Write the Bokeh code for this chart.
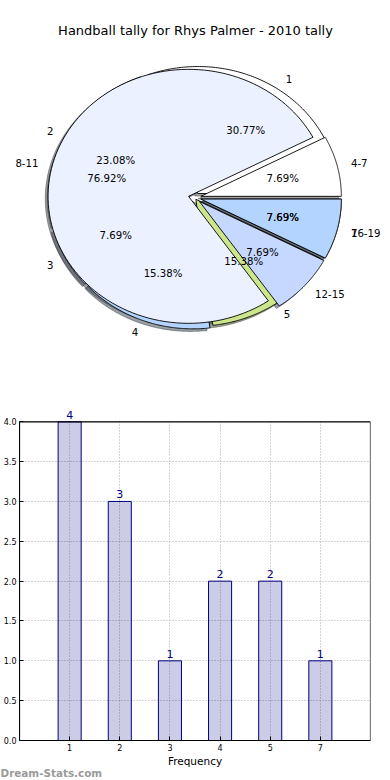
import numpy as np
from bokeh.plotting import figure
from bokeh.models import (ColumnDataSource, Label, LabelSet, Range1d, FixedTicker,
                          BoxAnnotation, Title)
from bokeh.core.properties import value
from bokeh.embed import file_html
from bokeh.resources import INLINE

# ---------------- data ----------------
title_text = "Handball tally for Rhys Palmer - 2010 tally"

freq_labels = ["1", "2", "3", "4", "5", "7"]
freq_counts = [4, 3, 1, 2, 2, 1]

range_labels = ["4-7", "8-11", "12-15", "16-19"]
range_counts = [1, 10, 1, 1]

bar_categories = ["1", "2", "3", "4", "5", "7"]
bar_values = [4, 3, 1, 2, 2, 1]

ytick_values = [0.0, 0.5, 1.0, 1.5, 2.0, 2.5, 3.0, 3.5, 4.0]
ytick_labels = ["0.0", "0.5", "1.0", "1.5", "2.0", "2.5", "3.0", "3.5", "4.0"]

x_label = "Frequency"
watermark = "Dream-Stats.com"

# ---------------- styles ----------------
FONTNAME = "DejaVu Sans"
FONT = value(FONTNAME)
freq_colors = ["#FFFFFF", "#EBF1FF", "#C6D8FF", "#B3D4FF", "#CCE68A", "#B3D4FF"]
range_colors = ["#FFFFFF", "#EBF1FF", "#C6D8FF", "#B3D4FF"]
freq_explode = [0.04, 0.035, 0.035, 0.035, 0.015, 0.045]
range_explode = [0.045, 0.045, 0.045, 0.045]


def pie_parts(counts, labels, explode, colors):
    counts = np.asarray(counts, dtype=float)
    fracs = counts / counts.sum()
    edges = np.concatenate([[0.0], np.cumsum(fracs)]) * 2 * np.pi
    w = dict(xs=[], ys=[], color=[], sxs=[], sys=[], scolor=[])
    t = dict(x=[], y=[], text=[], align=[])
    p = dict(x=[], y=[], text=[])
    for i in range(len(counts)):
        t1, t2 = edges[i], edges[i + 1]
        mid = 0.5 * (t1 + t2)
        cx, cy = explode[i] * np.cos(mid), explode[i] * np.sin(mid)
        th = np.linspace(t1, t2, 120)
        xs = [cx] + list(cx + np.cos(th)) + [cx]
        ys = [cy] + list(cy + np.sin(th)) + [cy]
        w["xs"].append(xs)
        w["ys"].append(ys)
        w["color"].append(colors[i])
        h = colors[i].lstrip("#")
        rgb = [int(0.3 * int(h[k:k + 2], 16)) for k in (0, 2, 4)]
        w["scolor"].append("#%02x%02x%02x" % tuple(rgb))
        w["sxs"].append([v - 0.02 for v in xs])
        w["sys"].append([v - 0.02 for v in ys])
        lx, ly = cx + 1.1 * np.cos(mid), cy + 1.1 * np.sin(mid)
        t["x"].append(lx)
        t["y"].append(ly)
        t["text"].append(labels[i])
        t["align"].append("left" if lx > 0 else "right")
        p["x"].append(cx + 0.6 * np.cos(mid))
        p["y"].append(cy + 0.6 * np.sin(mid))
        p["text"].append("%1.2f%%" % (100 * fracs[i]))
    return w, t, p


wa, ta, pa = pie_parts(freq_counts, freq_labels, freq_explode, freq_colors)
wb, tb, pb_ = pie_parts(range_counts, range_labels, range_explode, range_colors)

# ---------------- pie figure ----------------
# unit circle -> ellipse 140.5 x 127 px, centred at (194.2, 197.2) of the 390x400 canvas
RX, RY, CX, CY, PW, PH = 140.5, 127.0, 194.2, 197.2, 390, 400
pie = figure(width=PW, height=PH,
             x_range=Range1d(-CX / RX, (PW - CX) / RX),
             y_range=Range1d(-(PH - CY) / RY, CY / RY), output_backend="svg",
             toolbar_location=None, min_border=0,
             x_axis_type=None, y_axis_type=None)
pie.grid.visible = False
pie.outline_line_color = None
pie.background_fill_color = "white"

for w in (wa, wb):
    src = ColumnDataSource(dict(xs=w["sxs"], ys=w["sys"], c=w["scolor"]))
    pie.patches("xs", "ys", source=src, fill_color="c", line_color="c",
                fill_alpha=0.5, line_alpha=0.5, line_width=1)
for w in (wa, wb):
    src = ColumnDataSource(dict(xs=w["xs"], ys=w["ys"], c=w["color"]))
    pie.patches("xs", "ys", source=src, fill_color="c", line_color="black",
                line_width=0.9, line_join="miter")

for t in (ta, tb):
    pie.text("x", "y", text="text", source=ColumnDataSource(t), text_align="align",
             text_baseline="middle", text_font=FONT, text_font_size="10.2px",
             text_color="black")
for p in (pa, pb_):
    pie.text("x", "y", text="text", source=ColumnDataSource(p), text_align="center",
             text_baseline="middle", text_font=FONT, text_font_size="10.2px",
             text_color="black")

pie.add_layout(Label(x=(195 - CX) / RX, y=(CY - 30) / RY, text=title_text,
                     text_align="center", text_baseline="middle", text_font=FONTNAME,
                     text_font_size="13px", text_color="black"))

# ---------------- bar figure ----------------
bar_x = list(range(1, len(bar_categories) + 1))
y_top = max(ytick_values)
x_end = len(bar_categories) + 1
bar = figure(width=390, height=380, x_range=Range1d(0, x_end),
             y_range=Range1d(0, y_top + 0.217), output_backend="svg",
             toolbar_location=None, min_border_left=0, min_border_right=20,
             min_border_top=4, min_border_bottom=40)
bar.background_fill_color = "white"
bar.outline_line_color = None

bsrc = ColumnDataSource(dict(x=bar_x, top=bar_values, label=[str(v) for v in bar_values]))
bar.vbar(x="x", top="top", width=0.46, source=bsrc, fill_color="navy", fill_alpha=0.2,
         line_color="navy", line_width=1)

bar.xaxis.ticker = FixedTicker(ticks=bar_x)
bar.xaxis.major_label_overrides = {x: c for x, c in zip(bar_x, bar_categories)}
bar.yaxis.ticker = FixedTicker(ticks=ytick_values)
bar.yaxis.major_label_overrides = {v: l for v, l in zip(ytick_values, ytick_labels)}
bar.yaxis.bounds = (0, y_top)
bar.xgrid.ticker = FixedTicker(ticks=bar_x)
bar.ygrid.ticker = FixedTicker(ticks=ytick_values)
try:
    bar.xgrid.cross_bounds = (0, y_top)
except Exception:
    pass
for g in (bar.xgrid, bar.ygrid):
    g.grid_line_color = "#a8a8a8"
    g.grid_line_dash = "1 2"
    g.grid_line_width = 1

# frame box (top and right edges) of the 0..4 plotting area
bar.add_layout(BoxAnnotation(left=0, right=x_end, bottom=0, top=y_top,
                             fill_color=None, line_color="black", line_width=1.2,
                             line_alpha=1))

for ax in (bar.xaxis[0], bar.yaxis[0]):
    ax.major_tick_in = 4
    ax.major_tick_out = 0
    ax.minor_tick_line_color = None
    ax.axis_line_color = "black"
    ax.major_tick_line_color = "black"
    ax.major_label_text_font = FONTNAME
    ax.major_label_text_color = "black"
    ax.major_label_text_font_size = "8px"
    ax.major_label_standoff = 3

bar.xaxis.axis_label = x_label
bar.xaxis.axis_label_text_font = FONTNAME
bar.xaxis.axis_label_text_font_size = "10.5px"
bar.xaxis.axis_label_text_font_style = "normal"
bar.xaxis.axis_label_text_color = "black"
bar.xaxis.axis_label_standoff = 1

bar.add_layout(LabelSet(x="x", y="top", text="label", source=bsrc, text_align="center",
                        text_baseline="bottom", y_offset=3, text_color="navy",
                        text_font=FONT, text_font_size="11px"))

bar.add_layout(Title(text=watermark, align="left", offset=-19, standoff=-9,
                     text_font=FONTNAME, text_font_size="10.4px",
                     text_font_style="bold", text_color="#9a9a9a"), "below")

# two independent roots stacked on the page (no frame alignment between them)
open("out.html", "w").write(file_html([pie, bar], INLINE))
